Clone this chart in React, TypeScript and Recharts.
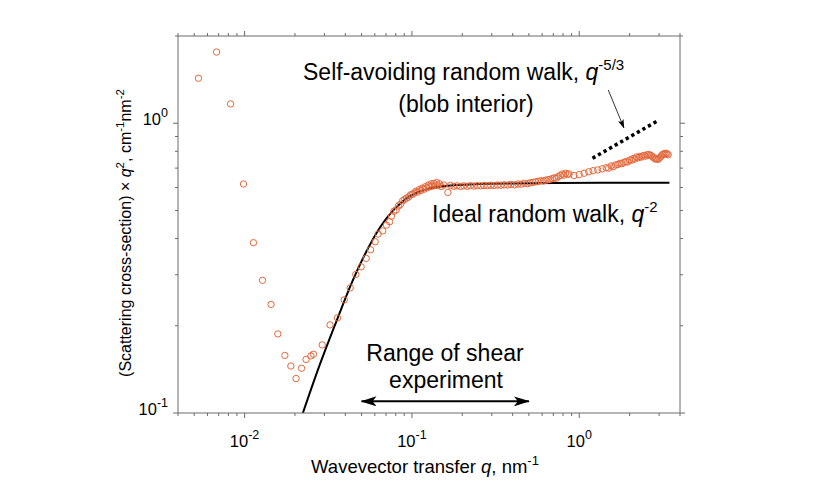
import React from 'react';
import { ComposedChart, Line, Scatter, XAxis, YAxis } from 'recharts';

const FONT = '"Liberation Sans", Arial, Helvetica, sans-serif';
const AXIS = '#6b6b6b';
const ORANGE = '#e4683c';

// axis ticks (log scale)
const xTicks = [
  0.004, 0.005, 0.006, 0.007, 0.008, 0.009,
  0.01, 0.02, 0.03, 0.04, 0.05, 0.06, 0.07, 0.08, 0.09,
  0.1, 0.2, 0.3, 0.4, 0.5, 0.6, 0.7, 0.8, 0.9,
  1, 2, 3, 4,
];
const yTicks = [0.1, 0.2, 0.3, 0.4, 0.5, 0.6, 0.7, 0.8, 0.9, 1, 2];

// measured points, low-q upturn and Guinier-like rise
const lowQ = [
  0.0053, 0.0068, 0.00825, 0.00985, 0.0113, 0.0128, 0.0144, 0.0158, 0.0174, 0.0189,
  0.0203, 0.0219, 0.0233, 0.0249, 0.0258, 0.0291, 0.0324, 0.0359, 0.0394, 0.0428,
  0.0462, 0.0497, 0.0533, 0.0566, 0.0603, 0.0628, 0.0669, 0.0704, 0.0736,
];
const lowI = [
  1.43, 1.76, 1.166, 0.617, 0.387, 0.287, 0.237, 0.1875, 0.158, 0.1453,
  0.1315, 0.1427, 0.153, 0.1575, 0.1595, 0.1718, 0.2014, 0.213, 0.2458, 0.2704,
  0.3007, 0.3195, 0.3416, 0.3658, 0.39, 0.4145, 0.425, 0.445, 0.457,
];

// knee region
const kneeQ = [
  0.0755, 0.078, 0.0805, 0.083, 0.0855, 0.088, 0.0905, 0.093, 0.0955, 0.098,
  0.1005, 0.103, 0.1055, 0.108, 0.1105, 0.113, 0.1155, 0.118, 0.1205, 0.123,
  0.1255, 0.128, 0.1305, 0.133, 0.1355, 0.138, 0.1405, 0.143, 0.146, 0.15,
];
const kneeI = [
  0.478, 0.497, 0.502, 0.518, 0.525, 0.54, 0.546, 0.552, 0.556, 0.566,
  0.568, 0.574, 0.582, 0.578, 0.59, 0.586, 0.597, 0.592, 0.604, 0.598,
  0.612, 0.604, 0.618, 0.607, 0.62, 0.612, 0.624, 0.609, 0.618, 0.605,
];

// plateau
const plateauQ = [
  0.155, 0.164, 0.17, 0.178, 0.186, 0.195, 0.204, 0.214, 0.224, 0.235,
  0.246, 0.258, 0.27, 0.283, 0.296, 0.31, 0.325, 0.34, 0.356, 0.373,
  0.39, 0.41, 0.43, 0.45, 0.47, 0.49, 0.51, 0.53, 0.55, 0.57,
  0.59, 0.61, 0.63, 0.65, 0.67, 0.69, 0.71, 0.73, 0.75, 0.77,
  0.79, 0.81, 0.83, 0.85, 0.87,
];
const plateauI = [
  0.612, 0.577, 0.61, 0.606, 0.608, 0.605, 0.608, 0.606, 0.609, 0.607,
  0.609, 0.608, 0.61, 0.609, 0.611, 0.61, 0.612, 0.611, 0.613, 0.612,
  0.615, 0.613, 0.617, 0.616, 0.62, 0.619, 0.623, 0.625, 0.628, 0.63,
  0.633, 0.632, 0.636, 0.638, 0.64, 0.644, 0.648, 0.646, 0.655, 0.66,
  0.668, 0.662, 0.672, 0.665, 0.668,
];

// high-q tail
const highQ = [
  0.93, 1.0, 1.07, 1.14, 1.21, 1.29, 1.37, 1.45, 1.5, 1.55,
  1.6, 1.65, 1.7, 1.75, 1.8, 1.85, 1.9, 1.95, 2.0, 2.05,
  2.1, 2.15, 2.2, 2.25, 2.3, 2.35, 2.4, 2.45, 2.5, 2.55,
  2.6, 2.65, 2.7, 2.75, 2.8, 2.85, 2.9, 2.95, 3.0, 3.05,
  3.1, 3.15, 3.2, 3.25, 3.3, 3.35, 3.4,
];
const highI = [
  0.66, 0.665, 0.672, 0.68, 0.686, 0.69, 0.696, 0.702, 0.7, 0.712,
  0.708, 0.718, 0.72, 0.727, 0.725, 0.733, 0.737, 0.735, 0.747, 0.745,
  0.755, 0.752, 0.765, 0.76, 0.768, 0.764, 0.772, 0.775, 0.77, 0.778,
  0.78, 0.776, 0.772, 0.765, 0.758, 0.752, 0.755, 0.75, 0.757, 0.765,
  0.772, 0.78, 0.785, 0.782, 0.788, 0.784, 0.778,
];

// ideal random walk (Debye) curve
const fitQ = [0.0223, 0.0278, 0.035, 0.044, 0.0553, 0.065, 0.073, 0.0876, 0.1106, 0.139, 0.1835, 0.253, 0.4, 0.7, 1.5, 3.46];
const fitI = [0.1, 0.144, 0.204, 0.284, 0.375, 0.44, 0.482, 0.536, 0.58, 0.601, 0.612, 0.617, 0.62, 0.622, 0.623, 0.623];

// self-avoiding walk guide, q^(1/3) after multiplying by q^2
const sawQ = [1.2, 3.0];
const sawI = [0.757, 1.026];

// annotation arrows
const pointerQ = [1.49, 1.85];
const pointerI = [1.303, 0.963];
const rangeQ = [0.05, 0.5];
const rangeI = [0.1097, 0.1097];

const zip = (qs: number[], is: number[]) => qs.map((q, i) => ({ q, y: is[i] }));

const points = [
  ...zip(lowQ, lowI),
  ...zip(kneeQ, kneeI),
  ...zip(plateauQ, plateauI),
  ...zip(highQ, highI),
];

// exponent text for decade ticks, null for minor ticks
function expOf(v: number) {
  const l = Math.log10(v);
  const r = Math.round(l);
  return Math.abs(l - r) < 1e-9 ? (r < 0 ? `-${-r}` : String(r)) : null;
}

function Pow({ x, y, exp, anchor }: { x: number; y: number; exp: string; anchor: 'middle' | 'end' }) {
  return (
    <text x={x} y={y} textAnchor={anchor} fontSize={16.5} fontFamily={FONT} fill="#000">
      10
      <tspan dy={-7.5} fontSize={12.5}>
        {exp}
      </tspan>
    </text>
  );
}

function XTick(props: any) {
  const { x, y, payload, side } = props;
  const e = expOf(payload.value);
  const len = e !== null ? 5 : 3;
  const dir = side === 'top' ? -1 : 1;
  return (
    <g>
      <line x1={x} x2={x} y1={y} y2={y + dir * len} stroke={AXIS} strokeWidth={1} />
      {side !== 'top' && e !== null && <Pow x={x} y={y + 33.5} exp={e} anchor="middle" />}
    </g>
  );
}

function YTick(props: any) {
  const { x, y, payload, side } = props;
  const e = expOf(payload.value);
  const len = e !== null ? 5 : 3;
  const dir = side === 'right' ? 1 : -1;
  return (
    <g>
      <line x1={x} x2={x + dir * len} y1={y} y2={y} stroke={AXIS} strokeWidth={1} />
      {side !== 'right' && e !== null && <Pow x={x - 10} y={y + 1.5} exp={e} anchor="end" />}
    </g>
  );
}

const Ring = (props: any) => (
  <circle cx={props.cx} cy={props.cy} r={3.2} fill="none" stroke={ORANGE} strokeWidth={1} />
);

export default function App() {
  return (
    <div style={{ position: 'relative', width: 822, height: 475, fontFamily: FONT }}>
      <ComposedChart
        width={822}
        height={475}
        margin={{ top: 18, right: 140, bottom: 30, left: 130 }}
      >
        <XAxis
          dataKey="q"
          type="number"
          scale="log"
          domain={[0.004, 4]}
          allowDataOverflow
          ticks={xTicks}
          interval={0}
          tickSize={0}
          tickMargin={0}
          height={40}
          stroke={AXIS}
          tick={<XTick side="bottom" />}
        />
        <XAxis
          xAxisId="top"
          orientation="top"
          dataKey="q"
          type="number"
          scale="log"
          domain={[0.004, 4]}
          allowDataOverflow
          ticks={xTicks}
          interval={0}
          tickSize={0}
          tickMargin={0}
          height={10}
          stroke={AXIS}
          tick={<XTick side="top" />}
        />
        <YAxis
          dataKey="y"
          type="number"
          scale="log"
          domain={[0.1, 2]}
          allowDataOverflow
          ticks={yTicks}
          interval={0}
          tickSize={0}
          tickMargin={0}
          width={40}
          stroke={AXIS}
          tick={<YTick side="left" />}
        />
        <YAxis
          yAxisId="right"
          orientation="right"
          dataKey="y"
          type="number"
          scale="log"
          domain={[0.1, 2]}
          allowDataOverflow
          ticks={yTicks}
          interval={0}
          tickSize={0}
          tickMargin={0}
          width={10}
          stroke={AXIS}
          tick={<YTick side="right" />}
        />
        <Scatter data={points} dataKey="y" shape={<Ring />} isAnimationActive={false} />
        <Line
          data={zip(fitQ, fitI)}
          dataKey="y"
          type="monotone"
          stroke="#000"
          strokeWidth={2}
          dot={false}
          isAnimationActive={false}
        />
        <Line
          data={zip(sawQ, sawI)}
          dataKey="y"
          type="linear"
          stroke="#000"
          strokeWidth={3.5}
          strokeDasharray="3.3 3.1"
          dot={false}
          isAnimationActive={false}
        />
        <Line
          data={zip(pointerQ, pointerI)}
          dataKey="y"
          type="linear"
          stroke="#000"
          strokeWidth={0.8}
          markerEnd="url(#thinHead)"
          dot={false}
          isAnimationActive={false}
        />
        <Line
          data={zip(rangeQ, rangeI)}
          dataKey="y"
          type="linear"
          stroke="#000"
          strokeWidth={2}
          markerStart="url(#boldHead)"
          markerEnd="url(#boldHead)"
          dot={false}
          isAnimationActive={false}
        />
      </ComposedChart>
      <svg
        width={822}
        height={475}
        style={{ position: 'absolute', left: 0, top: 0, pointerEvents: 'none' }}
        fontFamily={FONT}
      >
        <defs>
          <marker id="boldHead" viewBox="0 0 16 10" refX="15" refY="5" markerWidth="16" markerHeight="10" markerUnits="userSpaceOnUse" orient="auto-start-reverse">
            <path d="M0,0 L16,5 L0,10 L4,5 Z" fill="#000" />
          </marker>
          <marker id="thinHead" viewBox="0 0 9 6" refX="8.5" refY="3" markerWidth="9" markerHeight="6" markerUnits="userSpaceOnUse" orient="auto">
            <path d="M0,0 L9,3 L0,6 L2,3 Z" fill="#000" />
          </marker>
        </defs>
        {/* axis titles */}
        <text x={417} y={465} textAnchor="middle" fontSize={18.5}>
          Wavevector transfer <tspan fontStyle="italic">q</tspan>, nm
          <tspan dy={-8} fontSize={13}>-1</tspan>
        </text>
        <text transform="translate(123, 225) rotate(-90)" textAnchor="middle" fontSize={16}>
          (Scattering cross-section) × <tspan fontStyle="italic">q</tspan>
          <tspan dy={-7} fontSize={11.5}>2</tspan>
          <tspan dy={7}>, cm</tspan>
          <tspan dy={-7} fontSize={11.5}>-1</tspan>
          <tspan dy={7}>nm</tspan>
          <tspan dy={-7} fontSize={11.5}>-2</tspan>
        </text>
        {/* annotations */}
        <text x={295} y={72} fontSize={23}>
          Self-avoiding random walk, <tspan fontStyle="italic">q</tspan>
          <tspan dy={-10} fontSize={15}>-5/3</tspan>
        </text>
        <text x={458} y={104} textAnchor="middle" fontSize={23}>
          (blob interior)
        </text>
        <text x={424} y={214} fontSize={23}>
          Ideal random walk, <tspan fontStyle="italic">q</tspan>
          <tspan dy={-10} fontSize={15}>-2</tspan>
        </text>
        <text x={437} y={353} textAnchor="middle" fontSize={23}>
          Range of shear
        </text>
        <text x={438} y={380} textAnchor="middle" fontSize={23}>
          experiment
        </text>
      </svg>
    </div>
  );
}
